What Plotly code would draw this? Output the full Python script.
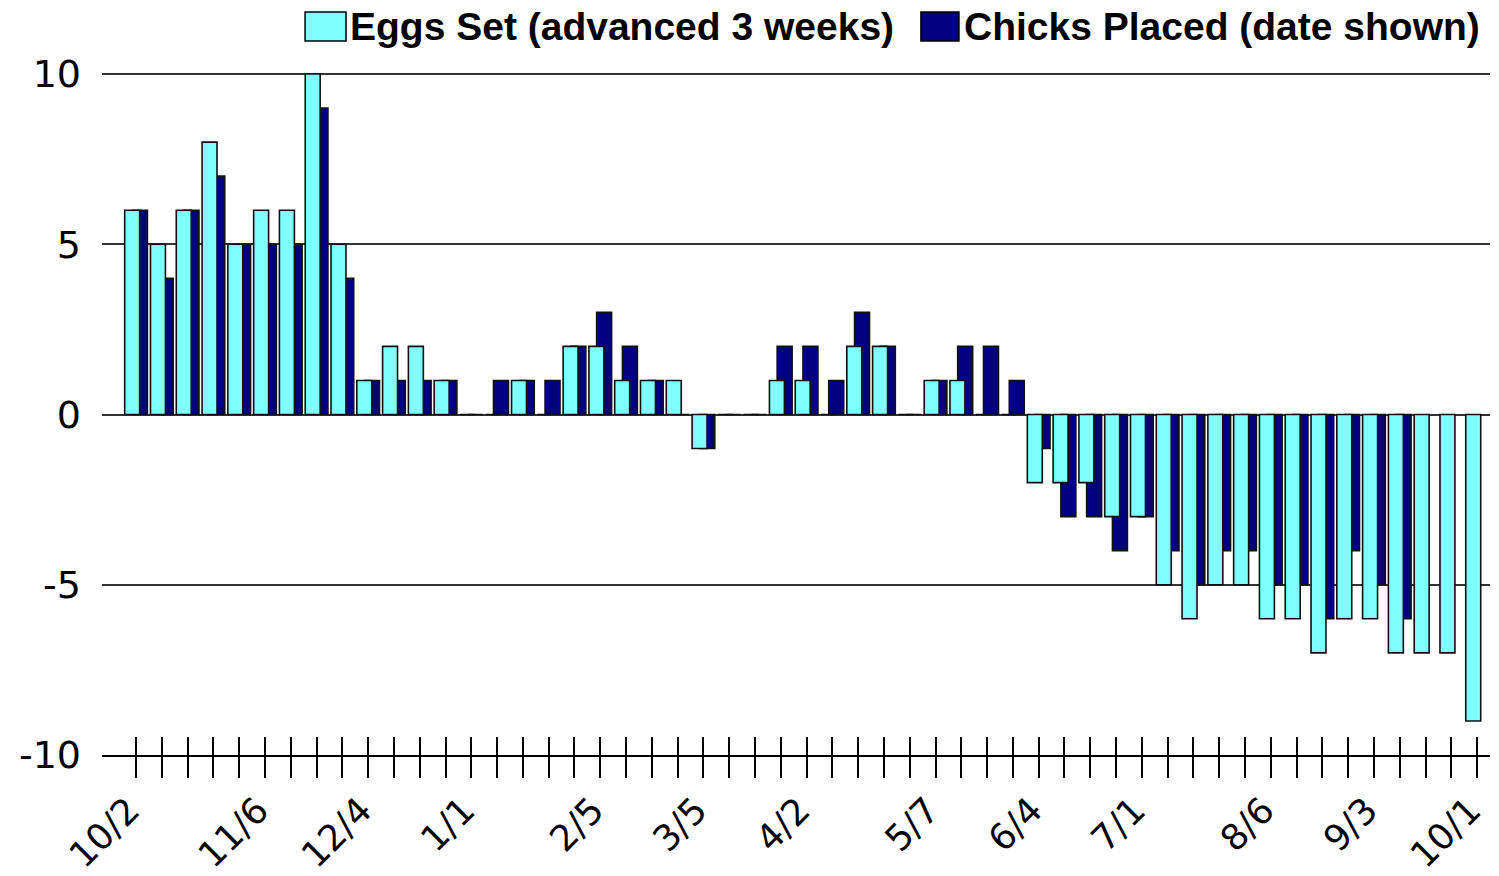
import plotly.graph_objects as go

# ---- data ----
weeks = list(range(53))
eggs_set = [6, 5, 6, 8, 5, 6, 6, 10, 5, 1, 2, 2, 1,
            0, 0, 1, 0, 2, 2, 1, 1, 1, -1,
            0, 0, 1, 1, 0, 2, 2, 0, 1, 1, 0, 0,
            -2, -2, -2, -3, -3, -5, -6, -5, -5, -6, -6, -7, -6, -6, -7, -7, -7, -9]
chicks_placed = [6, 4, 6, 7, 5, 5, 5, 9, 4, 1, 1, 1, 1,
                 0, 1, 1, 1, 2, 3, 2, 1, 0, -1,
                 0, 0, 2, 2, 1, 3, 2, 0, 1, 2, 2, 1,
                 -1, -3, -3, -4, -3, -4, -5, -4, -4, -5, -5, -6, -4, -5, -6, None, None, None]
label_weeks = [0, 5, 9, 13, 18, 22, 26, 31, 35, 39, 44, 48, 52]
label_text = ["10/2", "11/6", "12/4", "1/1", "2/5", "3/5", "4/2", "5/7", "6/4", "7/1", "8/6", "9/3", "10/1"]
y_ticks = [10, 5, 0, -5, -10]
y_tick_text = ["10", "5", "0", "-5", "-10"]
series_names = ["Eggs Set (advanced 3 weeks)", "Chicks Placed (date shown)"]

CYAN = "#80FFFF"
NAVY = "#000080"

x_ticktext = [label_text[label_weeks.index(w)] if w in label_weeks else "" for w in weeks]

fig = go.Figure()
# navy drawn first so cyan sits on top
fig.add_trace(go.Bar(x=weeks, y=chicks_placed, name=series_names[1],
                     marker=dict(color=NAVY, line=dict(color="#111111", width=1.6)),
                     offset=-0.14, width=0.58, showlegend=False))
fig.add_trace(go.Bar(x=weeks, y=eggs_set, name=series_names[0],
                     marker=dict(color=CYAN, line=dict(color="#111111", width=1.6)),
                     offset=-0.44, width=0.58, showlegend=False))
# helper trace so the inner tick axis is drawn
fig.add_trace(go.Scatter(x=[None], y=[None], xaxis="x2", showlegend=False, hoverinfo="skip"))

xr = [-1.32, 52.5]
fig.update_layout(
    width=1491, height=868, autosize=False,
    margin=dict(l=94, r=9, t=65, b=121, pad=0),
    paper_bgcolor="white", plot_bgcolor="white",
    barmode="overlay",
    xaxis=dict(range=xr, tickmode="array", tickvals=weeks, ticktext=x_ticktext,
               ticks="outside", ticklen=21, tickwidth=1.5, tickcolor="#000000",
               showline=True, linecolor="#000000", linewidth=1.5,
               showgrid=False, zeroline=False, tickangle=-45, automargin=False,
               ticklabelshift=-7, ticklabelstandoff=-3,
               tickfont=dict(family="DejaVu Sans", size=36, color="#000000")),
    xaxis2=dict(range=xr, overlaying="x", anchor="y", side="bottom",
                tickmode="array", tickvals=weeks, ticks="inside", ticklen=18,
                tickwidth=1.5, tickcolor="#000000", showticklabels=False,
                showline=False, showgrid=False, zeroline=False, automargin=False),
    yaxis=dict(range=[-10, 10.03], tickmode="array", tickvals=y_ticks, ticktext=y_tick_text,
               showgrid=True, gridcolor="#333333", gridwidth=1.5, zeroline=False,
               showline=False, ticks="", ticklabelstandoff=20, automargin=False,
               tickfont=dict(family="DejaVu Sans", size=38, color="#000000")),
)

# custom legend (swatches + labels) above the plot area
legend_font = dict(family="Liberation Sans", size=39, color="#000000", weight="bold")
fig.add_shape(type="rect", xref="paper", yref="paper", x0=0.1463, x1=0.1758, y0=1.047, y1=1.0896,
              fillcolor=CYAN, line=dict(color="#000000", width=1.5))
fig.add_annotation(xref="paper", yref="paper", x=0.1772, y=1.068, xanchor="left", yanchor="middle",
                   text=series_names[0], showarrow=False, font=legend_font)
fig.add_shape(type="rect", xref="paper", yref="paper", x0=0.590, x1=0.6174, y0=1.047, y1=1.0896,
              fillcolor=NAVY, line=dict(color="#000000", width=1.5))
fig.add_annotation(xref="paper", yref="paper", x=0.6196, y=1.068, xanchor="left", yanchor="middle",
                   text=series_names[1], showarrow=False, font=legend_font)

fig.write_html("out.html")
